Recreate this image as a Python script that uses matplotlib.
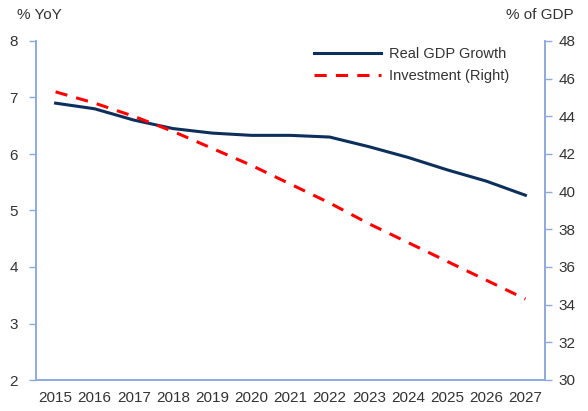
import matplotlib.pyplot as plt
from matplotlib import font_manager

names = {f.name for f in font_manager.fontManager.ttflist}
font = 'Liberation Sans Narrow' if 'Liberation Sans Narrow' in names else 'Liberation Sans'
plt.rcParams['font.family'] = [font, 'DejaVu Sans']

years = ['2015', '2016', '2017', '2018', '2019', '2020', '2021',
         '2022', '2023', '2024', '2025', '2026', '2027']
gdp_growth = [6.9, 6.8, 6.6, 6.45, 6.37, 6.33, 6.33, 6.3, 6.13, 5.94, 5.72, 5.52, 5.27]
investment = [45.3, 44.7, 44.0, 43.2, 42.3, 41.4, 40.4, 39.4, 38.3, 37.3, 36.3, 35.3, 34.3]

axis_col = '#8eaadb'
text_col = '#333333'

fig = plt.figure(figsize=(5.88, 4.11), dpi=100)
ax = fig.add_axes([36/588, 31/411, 509/588, 339/411])
ax2 = ax.twinx()

x = list(range(len(years)))
l1, = ax.plot(x, gdp_growth, color='#0c2f5c', lw=2.2, label='Real GDP Growth')
l2, = ax2.plot(x, investment, color='#ff0000', lw=2.2, ls=(0, (4, 3)), label='Investment (Right)')

ax.set_xlim(-0.5, len(years) - 0.5)
ax.set_ylim(2, 8)
ax2.set_ylim(30, 48)
ax.set_xticks(x)
ax.set_xticklabels(years)
ax.set_yticks(range(2, 9))
ax2.set_yticks(range(30, 49, 2))

for a in (ax, ax2):
    a.spines['top'].set_visible(False)
    for s in ('left', 'right', 'bottom'):
        a.spines[s].set_color(axis_col)
        a.spines[s].set_linewidth(1.2)
    a.tick_params(colors=axis_col, labelcolor=text_col, labelsize=11, length=5, width=1)
ax.tick_params(axis='x', length=0, pad=8)
ax.tick_params(axis='y', pad=8)
ax2.tick_params(axis='y', pad=5)

fig.text(17/588, 1 - 15/411, '% YoY', fontsize=11, color=text_col, va='center', ha='left')
fig.text(540/588, 1 - 15/411, '% of GDP', fontsize=11, color=text_col, va='center', ha='center')

ax.legend(handles=[l1, l2], loc='upper right', bbox_to_anchor=(0.955, 1.02),
          frameon=False, fontsize=10.5, handlelength=4.6, handletextpad=0.5,
          labelcolor=text_col)

fig.savefig('out.png', dpi=100)
